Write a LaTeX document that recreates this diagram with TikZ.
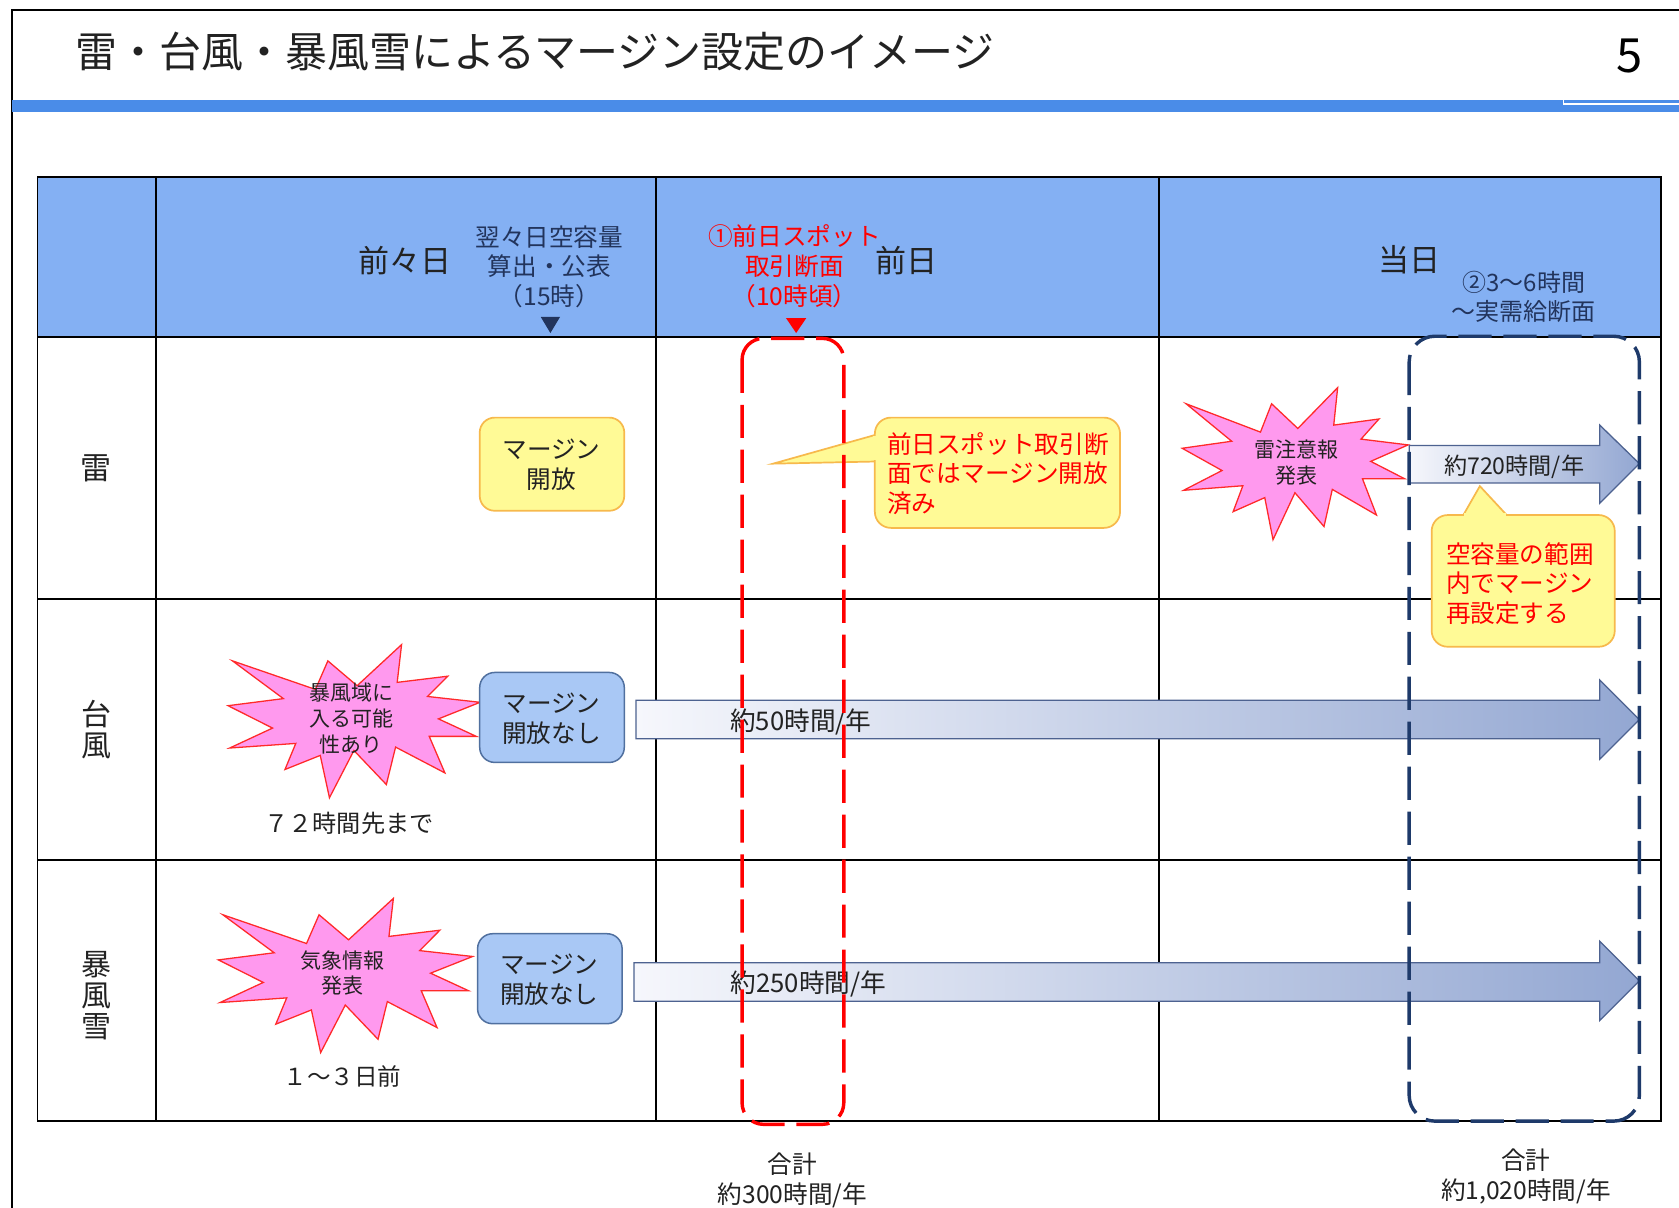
\documentclass[tikz,border=0pt]{standalone}
\usepackage{fontspec}
\setmainfont{Noto Sans CJK JP}
\definecolor{hdr}{HTML}{84B0F3}
\definecolor{barblue}{HTML}{4A8CE8}
\definecolor{yel}{HTML}{FFFA96}
\definecolor{yelb}{HTML}{F7B94C}
\definecolor{bluebox}{HTML}{A9C8F5}
\definecolor{blueboxb}{HTML}{50709F}
\definecolor{burstfill}{HTML}{FF99EE}
\definecolor{burstline}{HTML}{FF2A2A}
\definecolor{arrL}{HTML}{F6F7FC}
\definecolor{arrR}{HTML}{93A7D2}
\definecolor{arrline}{HTML}{4D6290}
\definecolor{navydash}{HTML}{1E3A6A}
\definecolor{hnavy}{HTML}{22345C}
\definecolor{txt}{HTML}{222222}
\definecolor{redtxt}{HTML}{FF0000}
\newcommand{\fsz}[2]{\fontsize{#1}{#2}\selectfont}
\newcommand{\explosionshape}[4]{%
  \begin{scope}[shift={(#1,#2)}, xscale=#3/216, yscale=#4/216]
    \filldraw[burststyle] (108.00,58.00) -- (145.22,0) -- (141.55,53.25) -- (183.80,44.57) -- (167.02,73.15) -- (210.97,81.37) -- (176.07,104.75) -- (207.73,129.42) -- (168.37,129.42) -- (181.45,180.95) -- (140.20,144.57) -- (132.47,197.37) -- (105.32,149.35) -- (84.85,216.00) -- (77.15,156.27) -- (47.62,176.17) -- (56.67,139.37) -- (1.35,145.87) -- (37.22,117.75) -- (0,86.15) -- (46.27,76.17) -- (3.70,22.95) -- (73.12,63.20) -- (83.52,22.95) -- cycle;
  \end{scope}}
\tikzset{
  tbl/.style={draw=black, line width=0.9pt},
  t/.style={inner sep=0pt, text=txt, align=center},
  burststyle/.style={fill=burstfill, draw=burstline, line width=0.6pt, line join=miter},
  yelbox/.style={fill=yel, draw=yelb, line width=0.8pt},
  bluebx/.style={fill=bluebox, draw=blueboxb, line width=0.7pt, rounded corners=7pt},
  arrowborder/.style={draw=arrline, line width=0.6pt},
  reddash/.style={draw=red, line width=1.6pt, dash pattern=on 15.5pt off 5.5pt, rounded corners=10pt},
  navydashed/.style={draw=navydash, line width=1.6pt, dash pattern=on 15.5pt off 5.5pt, rounded corners=12pt},
}
\begin{document}
\begin{tikzpicture}[x=0.5pt, y=-0.5pt]
\useasboundingbox (0,0) rectangle (1568,1128);
\fill[white] (0,0) rectangle (1568,1128);
% slide frame and title bar
\draw[line width=1pt] (11.5,1128) -- (11.5,9) -- (1568,9);
\fill[barblue] (11.5,93) rectangle (1568,104.5);
\draw[white, line width=0.8pt] (1460,93) -- (1460,96.8) -- (1568,96.8);
\node[t, anchor=west, font=\fsz{19.6}{22}] (title) at (70,48) {雷・台風・暴風雪によるマージン設定のイメージ};
\node[t, font=\fsz{22}{24}, text=black] (pageno) at (1522,52) {5};

% table
\fill[hdr] (35,165) rectangle (1551,315);
\draw[tbl] (35,165) rectangle (1551,1047);
\draw[tbl] (35,315) -- (1551,315);
\draw[tbl] (35,559) -- (1551,559);
\draw[tbl] (35,803) -- (1551,803);
\draw[tbl] (146,165) -- (146,1047);
\draw[tbl] (613,165) -- (613,1047);
\draw[tbl] (1082,165) -- (1082,1047);

% header texts
\node[t, font=\fsz{14.5}{16}] (h1) at (378,243) {前々日};
\node[t, font=\fsz{11.5}{13.8}, text=hnavy] (h1b) at (513,249) {翌々日空容量\\算出・公表\\（15時）};
\fill[hnavy] (505,296) -- (523,296) -- (514,311) -- cycle;
\node[t, font=\fsz{11.5}{14}, text=redtxt] (h2a) at (742,249) {①前日スポット\\取引断面\\（10時頃）};
\fill[red] (734,297) -- (753,297) -- (743.5,311) -- cycle;
\node[t, font=\fsz{14.5}{16}] (h2) at (847,243) {前日};
\node[t, font=\fsz{14.5}{16}] (h3) at (1316,243) {当日};
\node[t, font=\fsz{11.2}{13.6}, text=hnavy] (h3b) at (1423,277) {②3～6時間\\～実需給断面};

% row labels
\node[t, font=\fsz{14.5}{15}] (r1) at (90,437) {雷};
\node[t, font=\fsz{14}{14.5}] (r2) at (90,681) {台\\風};
\node[t, font=\fsz{14}{14.5}] (r3) at (90,930) {暴\\風\\雪};

% row 1 : thunder
\filldraw[yelbox, rounded corners=7pt] (448,390) rectangle (583,477);
\node[t, font=\fsz{11.5}{14}] (m1) at (515,434) {マージン\\開放};

% callout 1
\filldraw[yelbox, line join=miter] (722,433) -- (818,406) -- (818,431) -- cycle;
\filldraw[yelbox, rounded corners=7.5pt] (817,390) rectangle (1046,493);
\fill[yel] (815.5,407.5) rectangle (819.8,429.8);
\node[t, anchor=west, align=left, font=\fsz{11.5}{13.8}, text=redtxt] (c1) at (828,442) {前日スポット取引断\\面ではマージン開放\\済み};

% thunder burst
\explosionshape{1104}{362}{216}{142}
\node[t, font=\fsz{9.8}{12.5}] (b1) at (1211,432) {雷注意報\\発表};

% arrow 1
\shade[left color=arrL, right color=arrR] (1316,416) -- (1494,416) -- (1494,397) -- (1531,433) -- (1494,470) -- (1494,451) -- (1316,451) -- cycle;
\draw[arrowborder, line join=miter] (1316,416) -- (1494,416) -- (1494,397) -- (1531,433) -- (1494,470) -- (1494,451) -- (1316,451) -- cycle;
\node[t, font=\fsz{10.8}{12}] (a1) at (1414,436) {約720時間/年};

% callout 2
\filldraw[yelbox, line join=miter] (1382,454) -- (1366,482) -- (1408,482) -- cycle;
\filldraw[yelbox, rounded corners=7.5pt] (1337,481) rectangle (1508,604);
\fill[yel] (1367.5,479.5) rectangle (1406.5,483.2);
\node[t, anchor=west, align=left, font=\fsz{11.5}{13.8}, text=redtxt] (c2) at (1350,545) {空容量の範囲\\内でマージン\\再設定する};

% row 2 : typhoon
\explosionshape{213}{602}{241}{143}
\node[t, font=\fsz{9.8}{12}] (b2) at (328,671) {暴風域に\\入る可能\\性あり};
\filldraw[bluebx] (448,628) rectangle (583,712);
\node[t, font=\fsz{11.5}{14}] (m2) at (515,671) {マージン\\開放なし};
\node[t, font=\fsz{11.3}{13}] (n2) at (326,769) {７２時間先まで};
\shade[left color=arrL, right color=arrR] (594,654) -- (1494,654) -- (1494,635) -- (1531,672) -- (1494,709) -- (1494,690) -- (594,690) -- cycle;
\draw[arrowborder, line join=miter] (594,654) -- (1494,654) -- (1494,635) -- (1531,672) -- (1494,709) -- (1494,690) -- (594,690) -- cycle;
\node[t, font=\fsz{12}{13}] (a2) at (748,674) {約50時間/年};

% row 3 : snowstorm
\explosionshape{204}{839}{243}{144}
\node[t, font=\fsz{9.8}{11.7}] (b3) at (320,909) {気象情報\\発表};
\filldraw[bluebx] (446,872) rectangle (581,956);
\node[t, font=\fsz{11.5}{14}] (m3) at (513,915) {マージン\\開放なし};
\node[t, font=\fsz{11}{13}] (n3) at (320,1005) {１～３日前};
\shade[left color=arrL, right color=arrR] (592,899) -- (1494,899) -- (1494,879) -- (1531,916) -- (1494,953) -- (1494,935) -- (592,935) -- cycle;
\draw[arrowborder, line join=miter] (592,899) -- (1494,899) -- (1494,879) -- (1531,916) -- (1494,953) -- (1494,935) -- (592,935) -- cycle;
\node[t, font=\fsz{12}{13}] (a3) at (755,919) {約250時間/年};

% dashed frames
\draw[reddash] (693,316) rectangle (788,1050);
\draw[navydashed] (1316,314) rectangle (1531,1047);

% totals
\node[t, font=\fsz{11.5}{14}] (s1) at (740,1102) {合計\\約300時間/年};
\node[t, font=\fsz{11.5}{14}] (s2) at (1425,1099) {合計\\約1,020時間/年};
\end{tikzpicture}
\end{document}
